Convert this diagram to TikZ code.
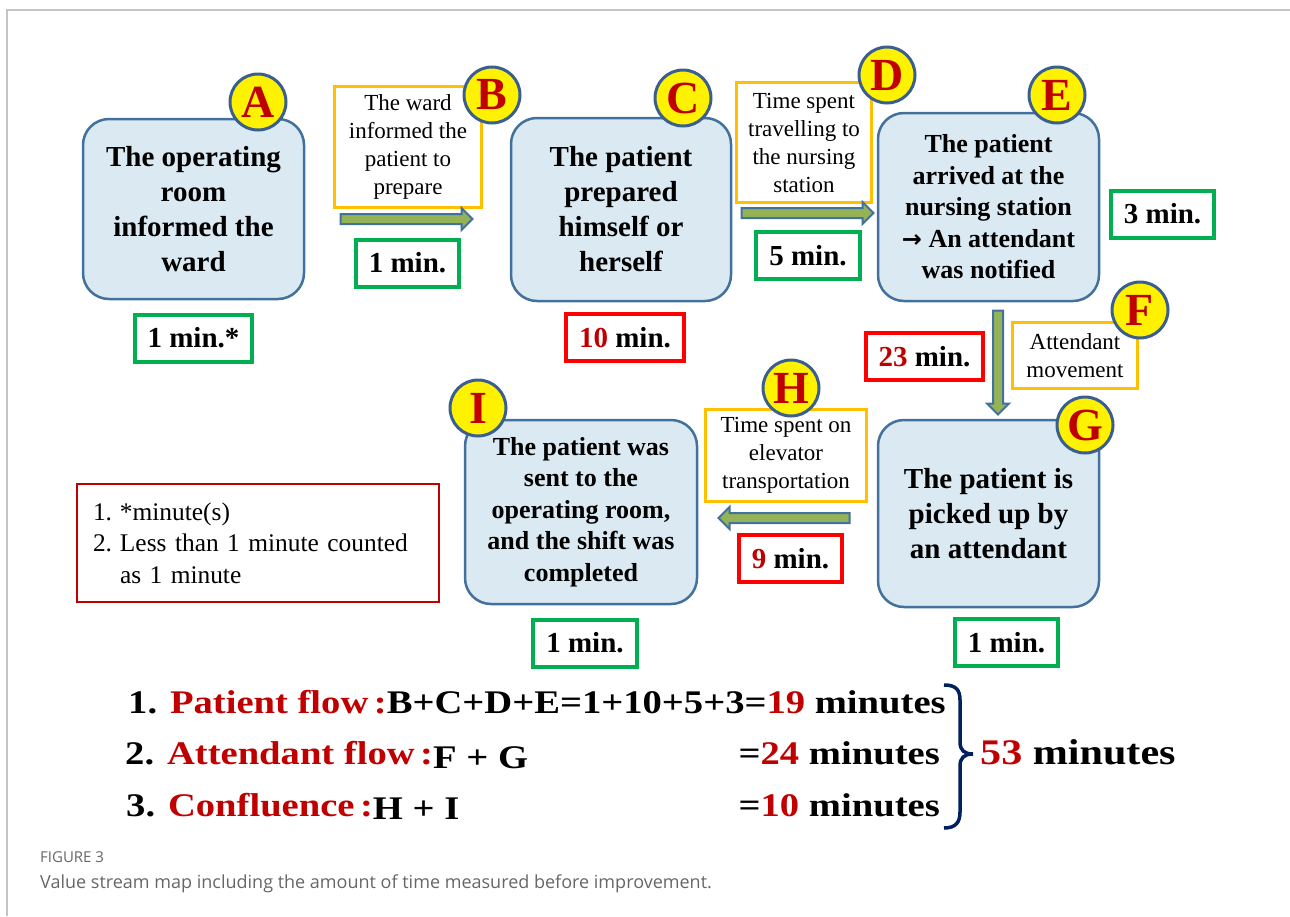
\documentclass[tikz,border=0pt]{standalone}
\usepackage{fontspec}
\setmainfont{Liberation Serif}
\newfontfamily\capfont{Open Sans}
\newfontfamily\arrowfont{DejaVu Sans}
\newfontfamily\sumfont[FakeStretch=1.17]{Liberation Serif}
\usetikzlibrary{shapes.arrows}
\definecolor{procfill}{HTML}{DAE9F2}
\definecolor{procline}{HTML}{41719C}
\definecolor{circline}{HTML}{3A5F8F}
\definecolor{letterred}{HTML}{C00000}
\definecolor{noteorange}{HTML}{FFC000}
\definecolor{okgreen}{HTML}{00B050}
\definecolor{badred}{HTML}{FF0000}
\definecolor{arrowgreen}{HTML}{93B356}
\definecolor{bracenavy}{HTML}{002060}
\definecolor{capgray}{HTML}{666666}
\definecolor{framegray}{HTML}{C4C4C4}
\newcommand{\legitem}[1]{\makebox[27pt][l]{#1}}
\tikzset{
  proc/.style={draw=procline, fill=procfill, line width=2.5pt, rounded corners=26pt,
    align=center, inner sep=2pt, font=\fontsize{29}{35}\selectfont\bfseries},
  letter/.style={circle, draw=circline, fill=yellow, line width=3pt, minimum size=56pt,
    inner sep=0pt, text=letterred, font=\fontsize{46}{46}\selectfont\bfseries},
  note/.style={draw=noteorange, fill=white, line width=3pt, align=center, inner sep=0pt,
    font=\fontsize{23}{28}\selectfont},
  okbox/.style={draw=okgreen, line width=4pt, minimum height=47pt, inner xsep=13pt,
    font=\fontsize{29}{35}\selectfont\bfseries},
  badbox/.style={okbox, draw=badred},
  flowarrow/.style={single arrow, draw=procline, fill=arrowgreen, line width=2pt,
    inner xsep=0pt, inner ysep=4pt, single arrow head extend=6pt, single arrow head indent=0pt},
  sumtext/.style={inner sep=0pt, font=\sumfont\fontsize{33}{33}\selectfont\bfseries},
}
\begin{document}
\begin{tikzpicture}[x=1pt,y=-1pt]
\useasboundingbox (0,0) rectangle (1290,916);
\draw[framegray, line width=1.2pt] (7,916) -- (7,10) -- (1290,10);

% process boxes
\node[proc, minimum width=221pt, minimum height=180pt] (opRoom) at (193.5,209) {The operating\\room\\informed the\\ward};
\node[proc, minimum width=220pt, minimum height=183pt] (prepared) at (621,209.5) {The patient\\prepared\\himself or\\herself};
\node[proc, minimum width=221pt, minimum height=188pt, font=\fontsize{26}{31.5}\selectfont\bfseries] (arrived) at (988.5,207) {The patient\\arrived at the\\nursing station\\{\arrowfont\fontsize{24}{24}\selectfont →} An attendant\\was notified};
\node[proc, minimum width=221pt, minimum height=187pt] (pickedUp) at (988.5,513.5) {The patient is\\picked up by\\an attendant};
\node[proc, minimum width=232pt, minimum height=184pt, font=\fontsize{26}{31.5}\selectfont\bfseries] (sent) at (581,512) {The patient was\\sent to the\\operating room,\\and the shift was\\completed};

% waiting steps
\node[note, minimum width=147pt, minimum height=121pt] (noteB) at (408,147) {The ward\\informed the\\patient to\\prepare};
\node[note, minimum width=135pt, minimum height=120pt] (noteD) at (804,142.5) {Time spent\\travelling to\\the nursing\\station};
\node[note, minimum width=125pt, minimum height=66pt] (noteF) at (1075,355.5) {Attendant\\movement};
\node[note, minimum width=161pt, minimum height=92pt] (noteH) at (786,455.5) {Time spent on\\elevator\\transportation};

\node[flowarrow, minimum height=132pt] (arrowB) at (404,219) {};
\node[flowarrow, minimum height=132pt] (arrowD) at (805,213) {};
\node[flowarrow, minimum height=104pt, rotate=270] (arrowF) at (998,360) {};
\node[flowarrow, minimum height=131pt, rotate=180] (arrowH) at (786.5,518) {};

% letters
\node[letter] (lA) at (258,102) {A};
\node[letter] (lB) at (492,95) {B};
\node[letter] (lC) at (683,98) {C};
\node[letter] (lD) at (887,75) {D};
\node[letter] (lE) at (1057,95) {E};
\node[letter] (lF) at (1140,310) {F};
\node[letter] (lG) at (1085,425) {G};
\node[letter] (lH) at (791,388) {H};
\node[letter] (lI) at (478,408) {I};

% times
\node[okbox] (tA) at (193.5,338) {1 min.*};
\node[okbox] (tB) at (407.5,263) {1 min.};
\node[badbox] (tC) at (625,337.5) {\textcolor{letterred}{10} min.};
\node[okbox] (tD) at (808,255.5) {5 min.};
\node[okbox] (tE) at (1162.5,214) {3 min.};
\node[badbox] (tF) at (924.5,356.5) {\textcolor{letterred}{23} min.};
\node[okbox] (tG) at (1006.5,642.5) {1 min.};
\node[badbox] (tH) at (790.5,558.5) {\textcolor{letterred}{9} min.};
\node[okbox] (tI) at (585,643) {1 min.};

\node[draw=letterred, line width=2.5pt, text width=330pt, align=left, inner xsep=16pt,
  minimum height=118pt, font=\fontsize{25.4}{31.5}\selectfont] (legend) at (258,543)
  {\legitem{1.}*minute(s)\\\legitem{2.}Less than 1 minute counted\\\legitem{}as 1 minute};

% totals
\node[sumtext, anchor=base west] (flowP) at (128,713) {1. \textcolor{letterred}{Patient flow\,:}B+C+D+E=1+10+5+3=\textcolor{letterred}{19} minutes};
\node[sumtext, anchor=base west] (flowA) at (125,764) {2. \textcolor{letterred}{Attendant flow\,:}\raisebox{-4pt}{F + G}};
\node[sumtext, anchor=base east] (sumA) at (940,764) {=\textcolor{letterred}{24} minutes};
\node[sumtext, anchor=base west] (flowC) at (126,816) {3. \textcolor{letterred}{Confluence\,:}\raisebox{-3pt}{H + I}};
\node[sumtext, anchor=base east] (sumC) at (940,816) {=\textcolor{letterred}{10} minutes};
\draw[bracenavy, line width=3.5pt] (944,685) .. controls (956,685) and (960,690) .. (960,700)
  -- (960,742) .. controls (960,750) and (964,754) .. (973,754)
  .. controls (964,754) and (960,758) .. (960,766) -- (960,812)
  .. controls (960,822) and (956,828) .. (944,828);
\node[sumtext, anchor=base west, font=\sumfont\fontsize{36}{36}\selectfont\bfseries] (total) at (980,764) {\textcolor{letterred}{53} minutes};

% caption
\node[anchor=base west, inner sep=0pt, text=capgray, font=\capfont\fontsize{15}{15}\selectfont] (figLabel) at (40,862) {FIGURE 3};
\node[anchor=base west, inner sep=0pt, text=capgray, font=\capfont\fontsize{18}{18}\selectfont] (figCaption) at (40,888) {Value stream map including the amount of time measured before improvement.};
\end{tikzpicture}
\end{document}
